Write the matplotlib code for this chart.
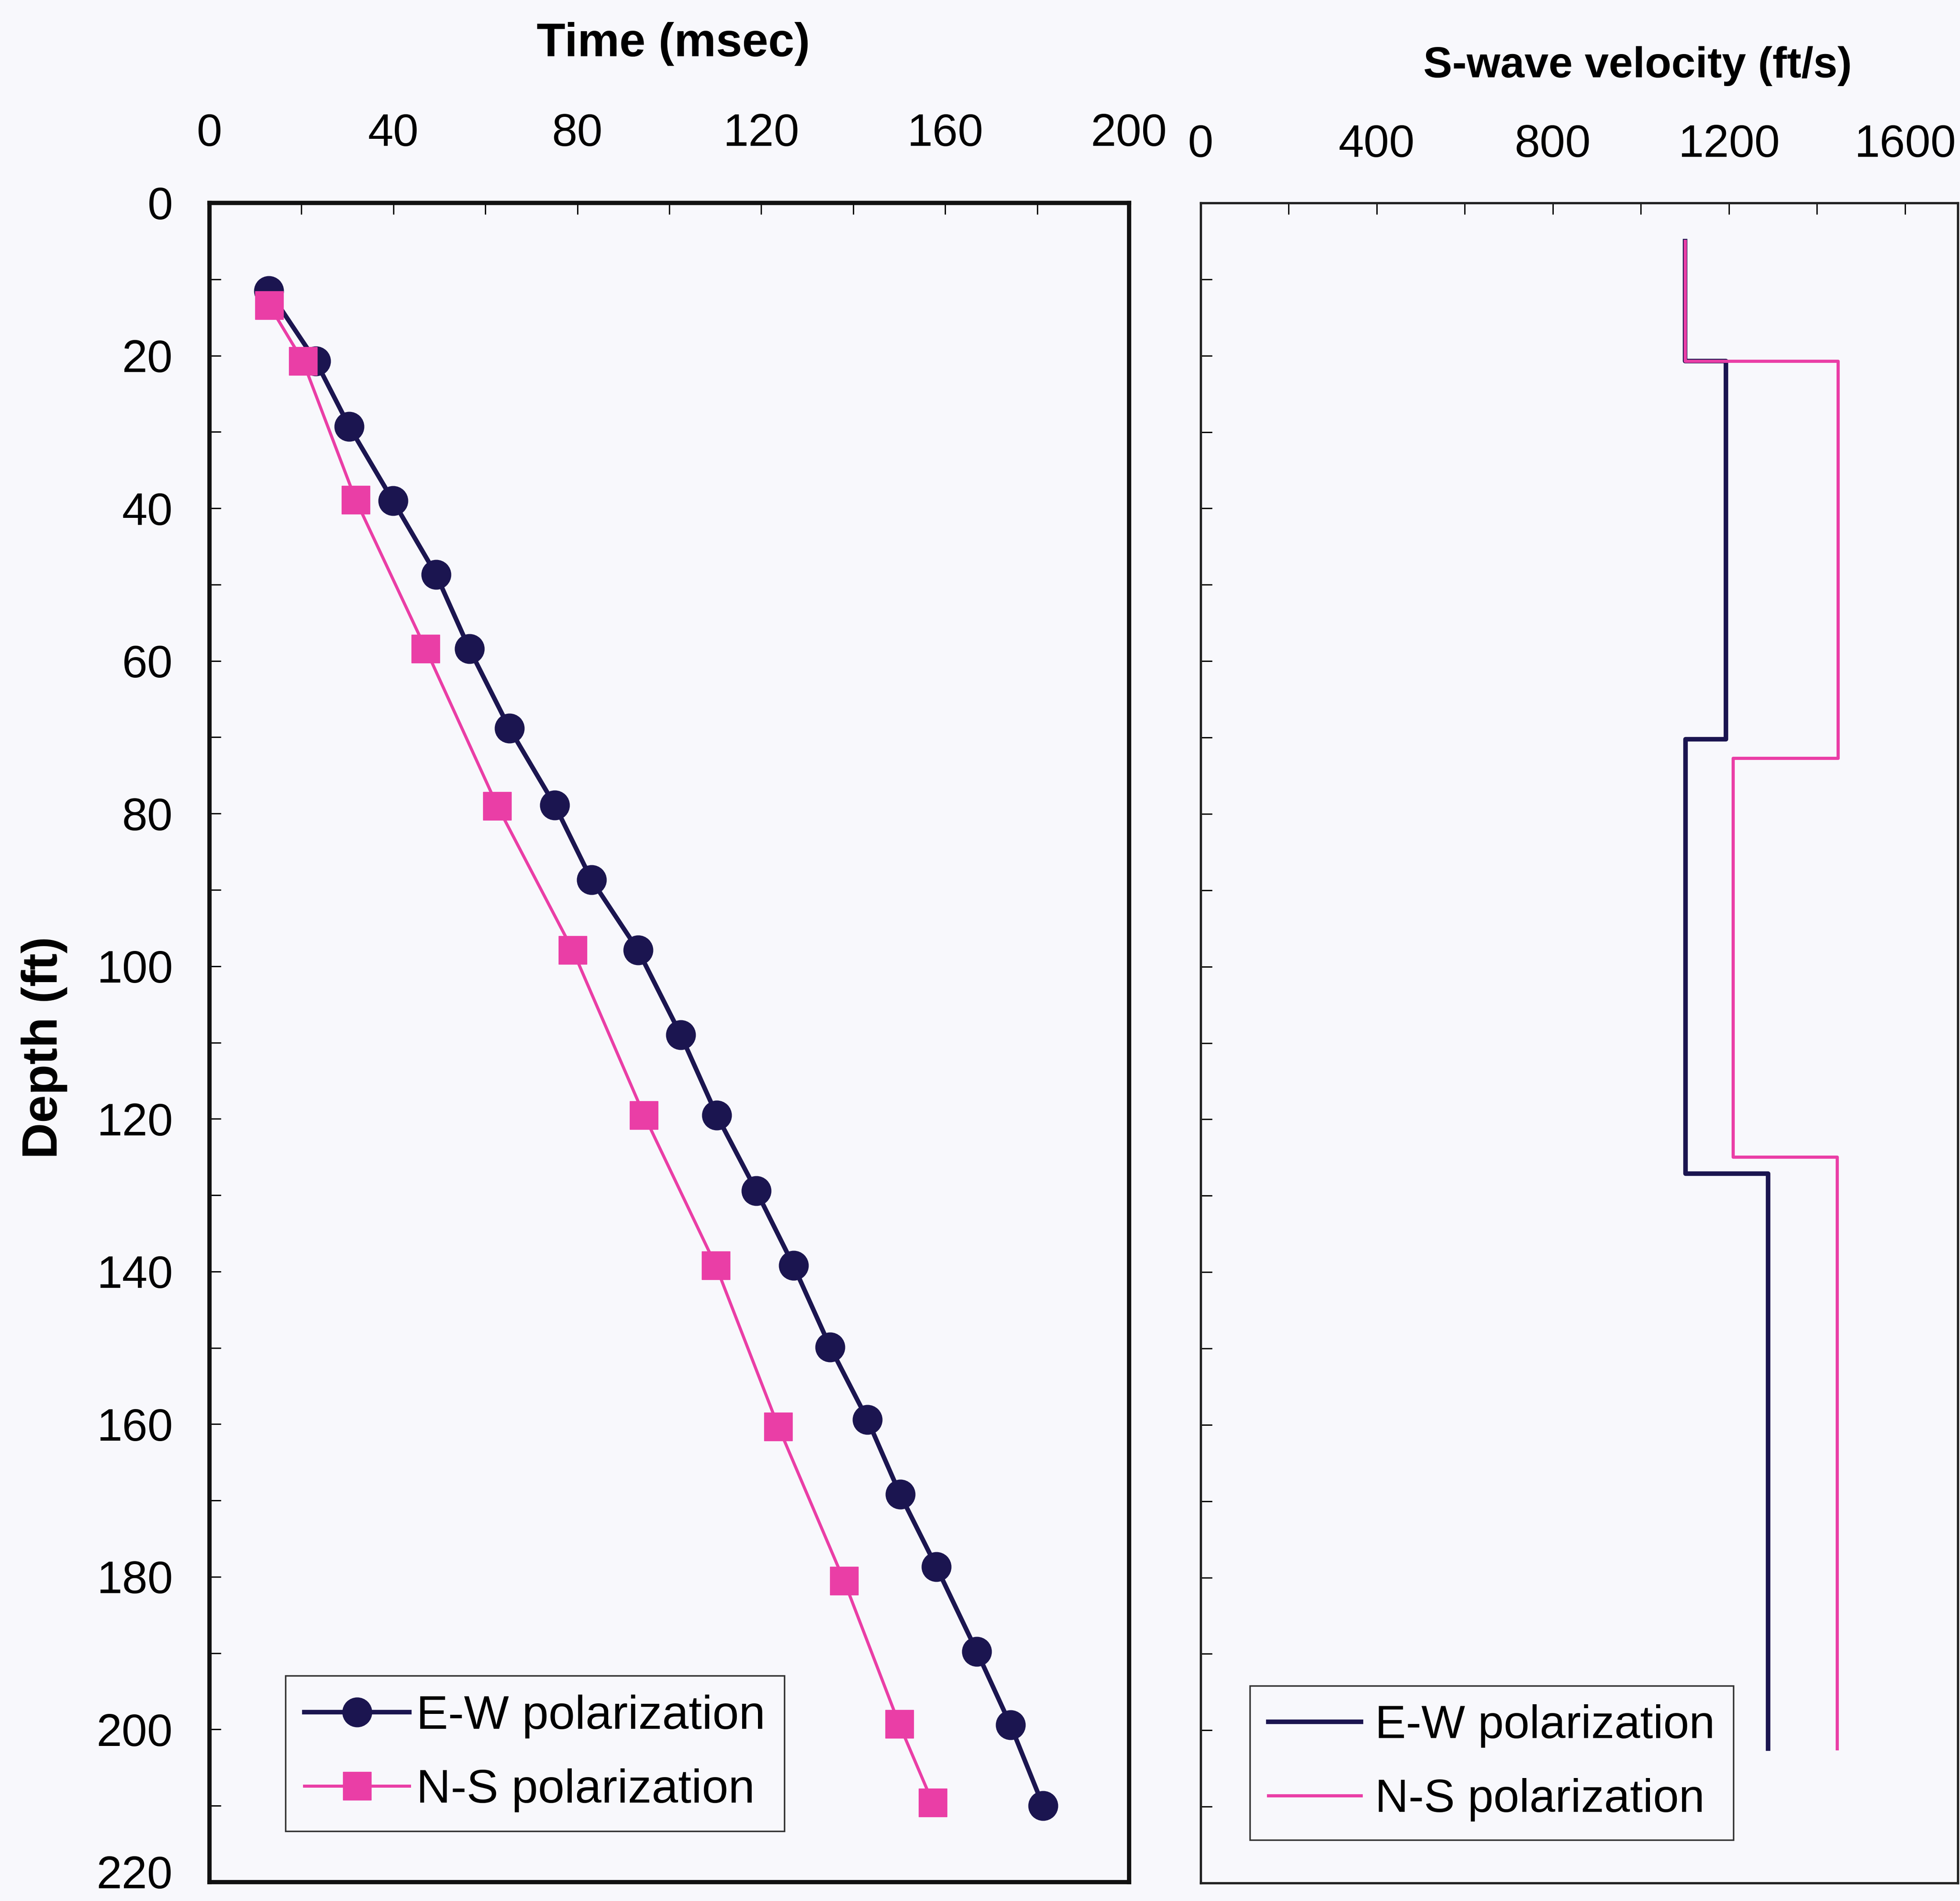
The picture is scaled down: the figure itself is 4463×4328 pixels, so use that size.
import numpy as np
import matplotlib
matplotlib.use("Agg")
from matplotlib import pyplot as plt
from matplotlib.ticker import MultipleLocator
from matplotlib.transforms import ScaledTranslation

plt.rcParams["font.family"] = ["Liberation Sans", "DejaVu Sans"]

NAVY = "#1b1550"
PINK = "#ea3ea6"
BG = "#f8f8fc"

# travel time vs depth (left panel)
ew_depth = [11.5, 20.7, 29.3, 39.0, 48.7, 58.4, 68.8, 78.9, 88.7, 97.9, 109.0,
            119.5, 129.4, 139.2, 149.9, 159.4, 169.2, 178.7, 189.8, 199.4, 210.0]
ew_time = [12.9, 23.1, 30.4, 39.9, 49.3, 56.5, 65.2, 75.1, 83.1, 93.2, 102.5,
           110.3, 118.9, 127.0, 135.0, 143.1, 150.2, 158.1, 166.9, 174.2, 181.3]
ns_depth = [13.4, 20.7, 38.9, 58.4, 79.0, 97.9, 119.5, 139.2, 160.3, 180.5, 199.3, 209.6]
ns_time = [13.0, 20.3, 31.8, 47.0, 62.6, 79.0, 94.5, 110.1, 123.7, 138.0, 150.0, 157.3]

# interval S-wave velocity layers (right panel)
ew_layer_top = [5.0, 20.7, 70.2, 127.1]
ew_layer_bottom = [20.7, 70.2, 127.1, 202.4]
ew_velocity = [1100, 1193, 1101, 1289]
ns_layer_top = [5.0, 20.7, 72.7, 124.9]
ns_layer_bottom = [20.7, 72.7, 124.9, 202.4]
ns_velocity = [1100, 1448, 1209, 1446]

labels = ["E-W polarization", "N-S polarization"]

W, H = 4463, 4328
fig = plt.figure(figsize=(W / 100, H / 100), dpi=100)
fig.patch.set_facecolor(BG)


def fx(px):
    return px / W


def fy(py):
    return 1 - py / H


def step_profile(tops, bottoms, vels):
    d = np.column_stack([tops, bottoms]).ravel()
    v = np.repeat(vels, 2)
    return v, d


TICK_FS = 75

# ---- left panel: time-depth
ax1 = fig.add_axes([fx(477), fy(4285), fx(2571 - 477), (4285 - 462) / H])
ax1.set_facecolor("none")
ax1.plot(ew_time, ew_depth, color=NAVY, lw=7.5, marker="o", ms=48,
         mfc=NAVY, mec=NAVY, label=labels[0], zorder=3)
ax1.plot(ns_time, ns_depth, color=PINK, lw=5, marker="s", ms=46,
         mfc=PINK, mec=PINK, label=labels[1], zorder=4)
ax1.set_xlim(0, 200)
ax1.set_ylim(220, 0)
ax1.xaxis.set_major_locator(MultipleLocator(40))
ax1.xaxis.set_minor_locator(MultipleLocator(20))
ax1.yaxis.set_major_locator(MultipleLocator(20))
ax1.yaxis.set_minor_locator(MultipleLocator(10))
ax1.tick_params(which="both", direction="in", length=19, width=2.2,
                top=True, bottom=False, left=True, right=False,
                labeltop=True, labelbottom=False)
ax1.tick_params(axis="x", which="major", labelsize=TICK_FS, pad=78)
ax1.tick_params(axis="y", which="major", labelsize=TICK_FS, pad=60)
for s in ax1.spines.values():
    s.set_linewidth(7)
    s.set_color("#111111")

# keep the bottom "220" label inside the figure
fig.canvas.draw()
for lab in ax1.get_yticklabels():
    if lab.get_text() == "220":
        lab.set_va("baseline")
        lab.set_transform(lab.get_transform()
                          + ScaledTranslation(0, -10 / 72, fig.dpi_scale_trans))

leg1 = ax1.legend(loc="upper left", bbox_to_anchor=(fx(650), fy(3815)),
                  bbox_transform=fig.transFigure, borderaxespad=0, fontsize=78,
                  fancybox=False, edgecolor="#333333", facecolor=BG, framealpha=1,
                  handlelength=2.2, handletextpad=0.15, borderpad=0.4,
                  labelspacing=0.62, numpoints=1)
leg1.get_frame().set_linewidth(2.5)

# ---- right panel: velocity profile
ax2 = fig.add_axes([fx(2734), fy(4287), fx(4458 - 2734), (4287 - 462) / H])
ax2.set_facecolor("none")
v, d = step_profile(ew_layer_top, ew_layer_bottom, ew_velocity)
ax2.plot(v, d, color=NAVY, lw=7.5, label=labels[0], zorder=3)
v, d = step_profile(ns_layer_top, ns_layer_bottom, ns_velocity)
ax2.plot(v, d, color=PINK, lw=5.2, label=labels[1], zorder=4)
ax2.set_xlim(0, 1720)
ax2.set_ylim(220, 0)
ax2.xaxis.set_major_locator(MultipleLocator(400))
ax2.xaxis.set_minor_locator(MultipleLocator(200))
ax2.yaxis.set_major_locator(MultipleLocator(10))
ax2.tick_params(which="both", direction="in", length=19, width=2.2,
                top=True, bottom=False, left=True, right=False,
                labeltop=True, labelbottom=False, labelleft=False)
ax2.tick_params(axis="x", which="major", labelsize=TICK_FS, pad=60)
for s in ax2.spines.values():
    s.set_linewidth(3.8)
    s.set_color("#222222")

leg2 = ax2.legend(loc="upper left", bbox_to_anchor=(fx(2846), fy(3838)),
                  bbox_transform=fig.transFigure, borderaxespad=0, fontsize=76,
                  fancybox=False, edgecolor="#333333", facecolor=BG, framealpha=1,
                  handlelength=2.0, handletextpad=0.3, borderpad=0.4,
                  labelspacing=0.65)
leg2.get_frame().set_linewidth(2.5)

# axis titles
fig.text(fx(1533), fy(100), "Time (msec)", ha="center", va="center",
         fontsize=77, fontweight="bold")
fig.text(fx(3729), fy(150), "S-wave velocity (ft/s)", ha="center", va="center",
         fontsize=71, fontweight="bold")
fig.text(fx(101), fy(2385), "Depth (ft)", ha="center", va="center",
         fontsize=82, fontweight="bold", rotation=90)

fig.savefig("out.png", dpi=100, facecolor=BG)
